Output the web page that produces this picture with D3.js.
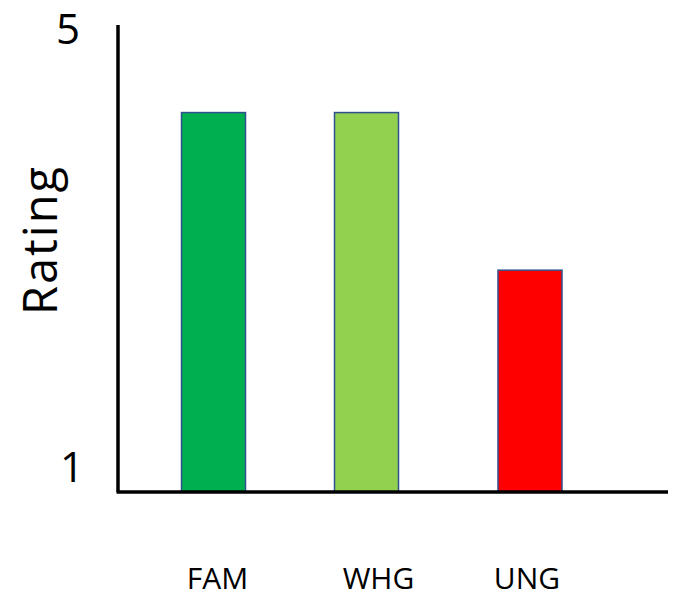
<!DOCTYPE html>
<html>
<head>
<meta charset="utf-8">
<script src="https://cdn.jsdelivr.net/npm/d3@7"></script>
<style>
  html, body { margin: 0; padding: 0; background: #fff; }
  svg { display: block; }
  text { font-family: "Open Sans", Lato, sans-serif; fill: #000; }
</style>
</head>
<body>
<svg id="chart" width="677" height="598"></svg>
<script>
// Ratings per group
const categories = ["FAM", "WHG", "UNG"];
const ratings = [4.25, 4.25, 2.9];
const barColors = ["#00B050", "#92D050", "#FF0000"];
const tickValues = [1, 5];
const yTitle = "Rating";

const svg = d3.select("#chart");
const x0 = 118, x1 = 668, yTop = 25, yBottom = 492;

const y = d3.scaleLinear().domain([1, 5]).range([yBottom, yTop]);
// bar slots are not evenly spaced, so each category gets its own centre
const xCenter = d3.scaleOrdinal().domain(categories).range([213.5, 366.5, 530]);
const barW = 64;

// bars
svg.append("g").selectAll("rect")
  .data(categories.map((c, i) => ({ c, v: ratings[i], col: barColors[i] })))
  .join("rect")
  .attr("x", d => xCenter(d.c) - barW / 2)
  .attr("y", d => y(d.v))
  .attr("width", barW)
  .attr("height", d => y(1) - y(d.v))
  .attr("fill", d => d.col)
  .attr("stroke", "#2F528F")
  .attr("stroke-width", 1.5);

// axes
svg.append("line")
  .attr("x1", x0).attr("x2", x0)
  .attr("y1", yTop).attr("y2", yBottom)
  .attr("stroke", "#000").attr("stroke-width", 3.5);
svg.append("line")
  .attr("x1", x0 - 1.5).attr("x2", x1)
  .attr("y1", yBottom).attr("y2", yBottom)
  .attr("stroke", "#000").attr("stroke-width", 3.5);

// y tick labels
const tickNudge = { 5: 19, 1: -10 };
const tickX = { 5: 68, 1: 72 };
svg.append("g").selectAll("text")
  .data(tickValues)
  .join("text")
  .attr("x", d => tickX[d])
  .attr("y", d => y(d) + tickNudge[d])
  .attr("text-anchor", "middle")
  .attr("font-size", 42)
  .text(d => d);

// y title
svg.append("text")
  .attr("transform", "translate(57,240) rotate(-90)")
  .attr("text-anchor", "middle")
  .attr("font-size", 47)
  .attr("letter-spacing", 2)
  .text(yTitle);

// category labels sit slightly off the bar centres
const labelNudge = { FAM: 4, WHG: 12, UNG: -3 };
svg.append("g").selectAll("text")
  .data(categories)
  .join("text")
  .attr("x", d => xCenter(d) + labelNudge[d])
  .attr("y", 589)
  .attr("text-anchor", "middle")
  .attr("font-size", 30)
  .text(d => d);
</script>
</body>
</html>
